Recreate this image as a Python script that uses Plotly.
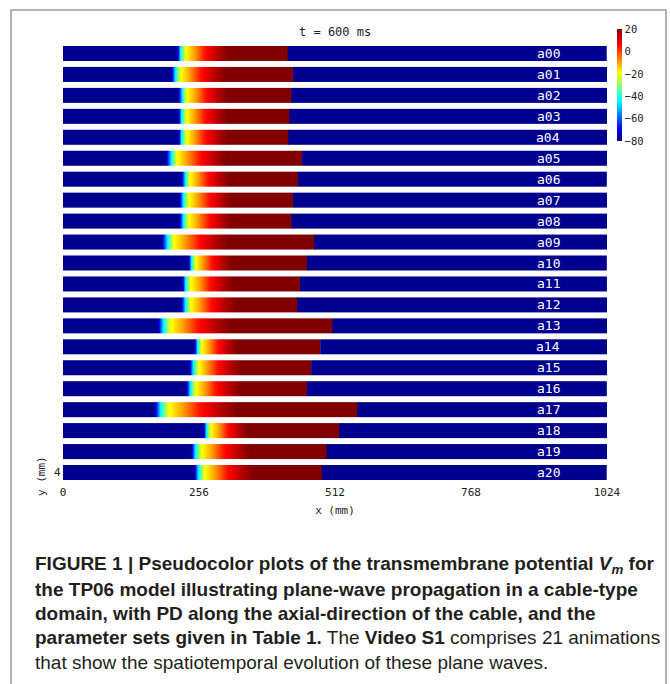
import plotly.graph_objects as go

# ---------------- data ----------------
labels = ["a%02d" % i for i in range(21)]
# x (mm) where the resting (blue) region ends at the back of the wave
tail_x = [212, 201, 215, 214, 214, 192, 221, 217, 217, 184, 233, 221, 220, 176, 245, 236, 229, 169, 262, 239, 244]
# x (mm) where the dark-red plateau begins
plateau_x = [310, 305, 309, 309, 309, 307, 312, 317, 317, 310, 317, 320, 324, 314, 327, 333, 333, 327, 346, 352, 358]
# x (mm) of the sharp wave front
front_x = [423, 433, 430, 426, 424, 450, 442, 433, 430, 473, 459, 446, 441, 507, 484, 467, 459, 554, 520, 496, 487]

# shape of the repolarisation tail (fraction of tail->plateau distance, Vm in mV)
tail_frac = [0.0, 0.04, 0.09, 0.18, 0.35, 0.55, 0.80, 1.0]
tail_vm = [-85, -68, -45, -20, -10, 4, 14, 20]
v_rest = -85
v_plateau = 20

x_ticks = [0, 256, 512, 768, 1024]
cbar_ticks = [-80, -60, -40, -20, 0, 20]

# ---------------- layout helpers ----------------
W, H = 670, 684
L, R, T, B = 63, 63, 46, 204
PW, PH = W - L - R, H - T - B


def px_x(p):
    return (p - L) / PW


def px_y(p):
    return (H - B - p) / PH


HALF = 0.358  # half strip height in row units
jet = [[0.0, "#00008F"], [0.11, "#0000FF"], [0.36, "#00FFFF"],
       [0.61, "#FFFF00"], [0.86, "#FF0000"], [1.0, "#800000"]]

fig = go.Figure()
for i, lab in enumerate(labels):
    yc = -i
    # resting region behind the wave + repolarisation tail + plateau (smoothed)
    xs = [0]
    zs = [v_rest]
    for f, v in zip(tail_frac, tail_vm):
        xs.append(tail_x[i] + f * (plateau_x[i] - tail_x[i]))
        zs.append(v)
    xs += [front_x[i] - 1, front_x[i]]
    zs += [v_plateau, v_plateau]
    fig.add_trace(go.Heatmap(
        x=xs, y=[yc - HALF, yc, yc + HALF], z=[zs, zs],
        coloraxis="coloraxis", zsmooth="best", hoverinfo="skip"))
    # resting tissue ahead of the sharp wave front
    fig.add_trace(go.Heatmap(
        x=[front_x[i], 1024], y=[yc - HALF, yc + HALF], z=[[v_rest]],
        coloraxis="coloraxis", zsmooth=False, hoverinfo="skip"))
    fig.add_annotation(x=913, y=yc, xref="x", yref="y", text=lab, showarrow=False,
                       font=dict(family="DejaVu Sans Mono", size=13, color="white"),
                       xanchor="center", yanchor="middle")

mono = "DejaVu Sans Mono"
fig.update_layout(
    width=W, height=H, margin=dict(l=L, r=R, t=T, b=B, autoexpand=False),
    paper_bgcolor="white", plot_bgcolor="white", showlegend=False,
    coloraxis=dict(
        colorscale=jet, cmin=-80, cmax=20,
        colorbar=dict(
            thickness=5, outlinewidth=0, lenmode="pixels", len=112,
            xref="container", x=617 / W, xanchor="left", xpad=0,
            yref="container", y=1 - 46 / H, yanchor="top", ypad=0,
            tickvals=cbar_ticks, ticks="", ticklabelposition="outside",
            tickfont=dict(family=mono, size=10.5, color="#222"))),
    xaxis=dict(range=[0, 1024], tickvals=x_ticks, showgrid=False, zeroline=False,
               showline=False, ticks="", ticklabelstandoff=4,
               tickfont=dict(family=mono, size=11, color="#222"),
               title=dict(text="x (mm)", font=dict(family=mono, size=11, color="#222"),
                          standoff=8)),
    yaxis=dict(range=[-20 - HALF, HALF], showticklabels=False, showgrid=False,
               zeroline=False, showline=False, ticks=""),
)

# title
fig.add_annotation(x=px_x(335), y=px_y(32), xref="paper", yref="paper", showarrow=False,
                   text="t = 600 ms", font=dict(family=mono, size=12, color="#222"),
                   xanchor="center", yanchor="middle")
# y axis label and tick
fig.add_annotation(x=px_x(57), y=px_y(472), xref="paper", yref="paper", showarrow=False,
                   text="4", font=dict(family=mono, size=11, color="#222"),
                   xanchor="center", yanchor="middle")
fig.add_annotation(x=px_x(41), y=px_y(476), xref="paper", yref="paper", showarrow=False,
                   text="y (mm)", textangle=-90, font=dict(family=mono, size=11, color="#222"),
                   xanchor="center", yanchor="middle")

# caption
cap_font = dict(family="Liberation Sans, Arial", size=19, color="#231f20")
cap_lines = [
    "<b>FIGURE 1 | Pseudocolor plots of the transmembrane potential <i>V<sub>m</sub></i> for</b>",
    "<b>the TP06 model illustrating plane-wave propagation in a cable-type</b>",
    "<b>domain, with PD along the axial-direction of the cable, and the</b>",
    "<b>parameter sets given in Table 1.</b> The <b>Video S1</b> comprises 21 animations",
    "that show the spatiotemporal evolution of these plane waves.",
]
cap_y = [565, 589, 613, 637, 662]
for t, yy in zip(cap_lines, cap_y):
    fig.add_annotation(x=px_x(33), y=px_y(yy), xref="paper", yref="paper", showarrow=False,
                       text=t, font=cap_font, xanchor="left", yanchor="middle", align="left")

# frame
fig.add_shape(type="rect", xref="paper", yref="paper",
              x0=px_x(11), x1=px_x(666), y0=px_y(700), y1=px_y(10),
              line=dict(color="#9a9a9a", width=1.5), fillcolor="rgba(0,0,0,0)", layer="above")

fig.write_html("out.html", config={"displayModeBar": False},
               post_script="document.body.style.margin='0';document.body.style.overflow='hidden';")
